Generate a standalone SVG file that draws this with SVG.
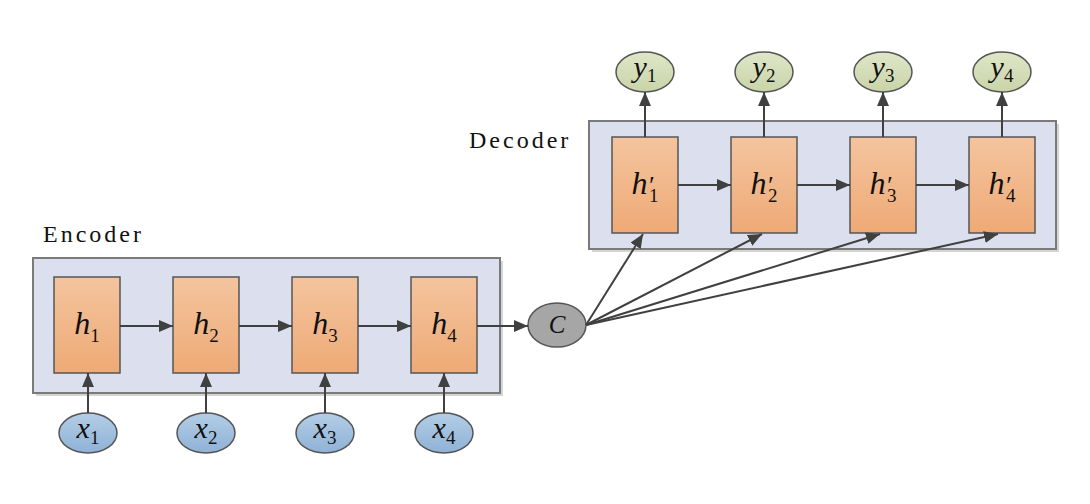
<svg xmlns="http://www.w3.org/2000/svg" width="1090" height="504" viewBox="0 0 1090 504">
<defs>
<linearGradient id="og" x1="0" y1="0" x2="0" y2="1"><stop offset="0" stop-color="#f4c49e"/><stop offset="1" stop-color="#eeaa76"/></linearGradient>
<linearGradient id="bg" x1="0" y1="0" x2="0" y2="1"><stop offset="0" stop-color="#b3cde6"/><stop offset="1" stop-color="#8fb2d6"/></linearGradient>
<linearGradient id="gg" x1="0" y1="0" x2="0" y2="1"><stop offset="0" stop-color="#dfe6c8"/><stop offset="1" stop-color="#c9d4a8"/></linearGradient>
<marker id="ah" markerUnits="userSpaceOnUse" markerWidth="14" markerHeight="12" viewBox="0 0 14 12" refX="14" refY="6" orient="auto"><path d="M0,0 L14,6 L0,12 z" fill="#404040"/></marker>
<style>
.panel{fill:#dce0ee;stroke:#7a7a7a;stroke-width:2}
.shadow{fill:#d4d4d4}
.cell{fill:url(#og);stroke:#555;stroke-width:1.5}
.xin{fill:url(#bg);stroke:#555;stroke-width:1.5}
.yout{fill:url(#gg);stroke:#555;stroke-width:1.5}
.ctx{fill:#a6a6a6;stroke:#555;stroke-width:1.5}
.lbl{font-family:"Liberation Serif",serif;font-size:24px;fill:#111;letter-spacing:3px}
.m{font-family:"Liberation Serif",serif;font-style:italic;fill:#111;text-anchor:middle}
.s{font-style:normal;font-size:19px}
.conn line{stroke:#404040;stroke-width:2;marker-end:url(#ah)}
</style>
</defs>
<rect width="1090" height="504" fill="#fff"/>
<g id="encoder">
<rect class="shadow" x="36" y="261" width="467" height="135"/>
<rect class="panel" x="33" y="258" width="467" height="135"/>
<text class="lbl" x="43" y="242">Encoder</text>
</g>
<g id="decoder">
<rect class="shadow" x="592" y="124" width="467" height="128"/>
<rect class="panel" x="589" y="121" width="467" height="128"/>
<text class="lbl" x="469" y="148">Decoder</text>
</g>
<g id="h1"><rect class="cell" x="54" y="277" width="66" height="96"/><text class="m" x="87" y="334" font-size="32">h<tspan class="s" dy="8">1</tspan></text></g>
<g id="h2"><rect class="cell" x="173" y="277" width="66" height="96"/><text class="m" x="206" y="334" font-size="32">h<tspan class="s" dy="8">2</tspan></text></g>
<g id="h3"><rect class="cell" x="292" y="277" width="66" height="96"/><text class="m" x="325" y="334" font-size="32">h<tspan class="s" dy="8">3</tspan></text></g>
<g id="h4"><rect class="cell" x="411" y="277" width="66" height="96"/><text class="m" x="444" y="334" font-size="32">h<tspan class="s" dy="8">4</tspan></text></g>
<g id="hp1"><rect class="cell" x="612" y="137" width="66" height="96"/><text class="m" x="645" y="194" font-size="32">h<tspan font-size="26">′</tspan><tspan class="s" dx="-4" dy="8">1</tspan></text></g>
<g id="hp2"><rect class="cell" x="731" y="137" width="66" height="96"/><text class="m" x="764" y="194" font-size="32">h<tspan font-size="26">′</tspan><tspan class="s" dx="-4" dy="8">2</tspan></text></g>
<g id="hp3"><rect class="cell" x="850" y="137" width="66" height="96"/><text class="m" x="883" y="194" font-size="32">h<tspan font-size="26">′</tspan><tspan class="s" dx="-4" dy="8">3</tspan></text></g>
<g id="hp4"><rect class="cell" x="969" y="137" width="66" height="96"/><text class="m" x="1002" y="194" font-size="32">h<tspan font-size="26">′</tspan><tspan class="s" dx="-4" dy="8">4</tspan></text></g>
<g id="x1"><ellipse class="xin" cx="88" cy="433" rx="29" ry="20"/><text class="m" x="88" y="438" font-size="30">x<tspan class="s" dy="6">1</tspan></text></g>
<g id="x2"><ellipse class="xin" cx="206" cy="433" rx="29" ry="20"/><text class="m" x="206" y="438" font-size="30">x<tspan class="s" dy="6">2</tspan></text></g>
<g id="x3"><ellipse class="xin" cx="325" cy="433" rx="29" ry="20"/><text class="m" x="325" y="438" font-size="30">x<tspan class="s" dy="6">3</tspan></text></g>
<g id="x4"><ellipse class="xin" cx="444" cy="433" rx="29" ry="20"/><text class="m" x="444" y="438" font-size="30">x<tspan class="s" dy="6">4</tspan></text></g>
<g id="y1"><ellipse class="yout" cx="645" cy="72" rx="29" ry="20"/><text class="m" x="645" y="77" font-size="30">y<tspan class="s" dy="5">1</tspan></text></g>
<g id="y2"><ellipse class="yout" cx="764" cy="72" rx="29" ry="20"/><text class="m" x="764" y="77" font-size="30">y<tspan class="s" dy="5">2</tspan></text></g>
<g id="y3"><ellipse class="yout" cx="883" cy="72" rx="29" ry="20"/><text class="m" x="883" y="77" font-size="30">y<tspan class="s" dy="5">3</tspan></text></g>
<g id="y4"><ellipse class="yout" cx="1002" cy="72" rx="29" ry="20"/><text class="m" x="1002" y="77" font-size="30">y<tspan class="s" dy="5">4</tspan></text></g>
<g id="c"><ellipse class="ctx" cx="557" cy="325" rx="29" ry="22"/><text class="m" x="557" y="333" font-size="25">C</text></g>
<g class="conn" id="connectors">
<line x1="120" y1="326" x2="173" y2="326"/>
<line x1="239" y1="326" x2="292" y2="326"/>
<line x1="358" y1="326" x2="411" y2="326"/>
<line x1="477" y1="326" x2="528" y2="326"/>
<line x1="88" y1="413" x2="88" y2="373"/>
<line x1="206" y1="413" x2="206" y2="373"/>
<line x1="325" y1="413" x2="325" y2="373"/>
<line x1="444" y1="413" x2="444" y2="373"/>
<line x1="678" y1="185" x2="731" y2="185"/>
<line x1="797" y1="185" x2="850" y2="185"/>
<line x1="916" y1="185" x2="969" y2="185"/>
<line x1="645" y1="137" x2="645" y2="92"/>
<line x1="764" y1="137" x2="764" y2="92"/>
<line x1="883" y1="137" x2="883" y2="92"/>
<line x1="1002" y1="137" x2="1002" y2="92"/>
<line x1="586" y1="325" x2="643" y2="234"/>
<line x1="586" y1="325" x2="762" y2="234"/>
<line x1="586" y1="325" x2="880" y2="234"/>
<line x1="586" y1="325" x2="998" y2="234"/>
</g>
</svg>
